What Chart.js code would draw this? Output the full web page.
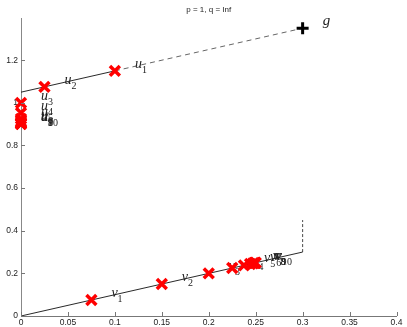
<!DOCTYPE html>
<html>
<head>
<meta charset="utf-8">
<script src="https://cdn.jsdelivr.net/npm/chart.js@4.4.1/dist/chart.umd.min.js"></script>
<style>
  html, body { margin: 0; padding: 0; background: #fff; }
</style>
</head>
<body>
<canvas id="chart" width="407" height="327"></canvas>
<script>
// values
const chartTitle = 'p = 1, q = Inf';
const uX = [0.1, 0.025, 0, 0, 0, 0, 0, 0, 0, 0];
const uY = [1.15, 1.075, 1.0, 0.953, 0.925, 0.912, 0.906, 0.903, 0.902, 0.901];
const vX = [0.075, 0.15, 0.2, 0.225, 0.2375, 0.244, 0.247, 0.2485, 0.2495, 0.25];
const vY = [0.075, 0.15, 0.2, 0.225, 0.2375, 0.244, 0.247, 0.2485, 0.2495, 0.25];
const gPoint = [0.3, 1.35];
const uLineX = [0, 0.1, 0.3];      // solid part then dashed part up to g
const uLineY = [1.05, 1.15, 1.35];
const vLineX = [0, 0.3, 0.3];      // solid part then dashed vertical
const vLineY = [0, 0.3, 0.45];
const xRange = [0, 0.4];
const yRange = [0, 1.398];

const pts = (xs, ys) => xs.map((x, i) => ({ x: x, y: ys[i] }));

function drawLabel(ctx, x, y, base, sub) {
  ctx.font = 'italic 14px "Liberation Serif"';
  ctx.fillText(base, x, y);
  if (sub) {
    const w = ctx.measureText(base).width;
    ctx.font = '10px "Liberation Serif"';
    ctx.fillText(sub, x + w, y + 5);
  }
}

const labelPlugin = {
  id: 'pointLabels',
  beforeDatasetDraw(chart, args) {
    if (args.index !== 2) return;
    const ctx = chart.ctx;
    const xs = chart.scales.x, ys = chart.scales.y;
    ctx.save();
    ctx.fillStyle = '#222';
    ctx.textBaseline = 'alphabetic';
    vX.forEach((v, i) => {
      drawLabel(ctx, xs.getPixelForValue(v) + 20, ys.getPixelForValue(vY[i]) - 3, 'v', String(i + 1));
    });
    uX.forEach((v, i) => {
      drawLabel(ctx, xs.getPixelForValue(v) + 20, ys.getPixelForValue(uY[i]) - 3, 'u', String(i + 1));
    });
    ctx.font = 'italic 15px "Liberation Serif"';
    ctx.fillText('g', xs.getPixelForValue(gPoint[0]) + 20, ys.getPixelForValue(gPoint[1]) - 3);
    ctx.restore();
  }
};

// matlab style ticks pointing into the plot, and the title
const axesPlugin = {
  id: 'matlabAxes',
  afterDraw(chart) {
    const ctx = chart.ctx;
    const area = chart.chartArea;
    ctx.save();
    ctx.strokeStyle = '#777';
    ctx.lineWidth = 1;
    ctx.beginPath();
    chart.scales.x.ticks.forEach(t => {
      const px = Math.round(chart.scales.x.getPixelForValue(t.value)) + 0.5;
      ctx.moveTo(px, area.bottom);
      ctx.lineTo(px, area.bottom - 4);
    });
    chart.scales.y.ticks.forEach(t => {
      const py = Math.round(chart.scales.y.getPixelForValue(t.value)) + 0.5;
      ctx.moveTo(area.left, py);
      ctx.lineTo(area.left + 4, py);
    });
    ctx.stroke();
    ctx.fillStyle = '#222';
    ctx.font = '8px "Liberation Sans"';
    ctx.textAlign = 'center';
    ctx.textBaseline = 'middle';
    ctx.fillText(chartTitle, (area.left + area.right) / 2, 10);
    ctx.restore();
  }
};

const tickText = v => String(Number(v.toFixed(3)));

new Chart(document.getElementById('chart'), {
  type: 'scatter',
  data: {
    datasets: [
      {
        data: [{ x: gPoint[0], y: gPoint[1] }],
        pointStyle: 'cross', pointRadius: 6, borderWidth: 3,
        borderColor: '#000', backgroundColor: '#000', clip: false
      },
      {
        data: pts(vX, vY),
        pointStyle: 'crossRot', pointRadius: 7, borderWidth: 3.5,
        borderColor: '#ff0000', backgroundColor: '#ff0000', clip: false
      },
      {
        data: pts(uX, uY),
        pointStyle: 'crossRot', pointRadius: 7, borderWidth: 3.5,
        borderColor: '#ff0000', backgroundColor: '#ff0000', clip: false
      },
      {
        data: pts(uLineX.slice(0, 2), uLineY.slice(0, 2)),
        showLine: true, pointRadius: 0, borderColor: '#111', borderWidth: 0.9
      },
      {
        data: pts(uLineX.slice(1), uLineY.slice(1)),
        showLine: true, pointRadius: 0, borderColor: '#555', borderWidth: 0.9,
        borderDash: [5, 4]
      },
      {
        data: pts(vLineX.slice(0, 2), vLineY.slice(0, 2)),
        showLine: true, pointRadius: 0, borderColor: '#111', borderWidth: 0.9
      },
      {
        data: pts(vLineX.slice(1), vLineY.slice(1)),
        showLine: true, pointRadius: 0, borderColor: '#333', borderWidth: 0.9,
        borderDash: [3, 2]
      }
    ]
  },
  options: {
    responsive: false,
    animation: false,
    devicePixelRatio: 1,
    layout: { padding: { top: 18, right: 10, left: 0, bottom: 0 } },
    plugins: {
      legend: { display: false },
      tooltip: { enabled: false },
      title: { display: false }
    },
    scales: {
      x: {
        type: 'linear',
        min: xRange[0], max: xRange[1],
        grid: { display: false, drawTicks: false },
        border: { display: true, color: '#777', width: 1 },
        ticks: {
          stepSize: 0.05, padding: 2, maxRotation: 0, autoSkip: false,
          color: '#222', font: { family: 'Liberation Sans', size: 8.5 },
          callback: tickText
        },
        afterFit(scale) { scale.height = 11; }
      },
      y: {
        type: 'linear',
        min: yRange[0], max: yRange[1],
        grid: { display: false, drawTicks: false },
        border: { display: true, color: '#888', width: 1 },
        ticks: {
          stepSize: 0.2, padding: 3, includeBounds: false, autoSkip: false,
          color: '#222', font: { family: 'Liberation Sans', size: 8.5 },
          callback: tickText
        },
        afterFit(scale) { scale.width = 21; }
      }
    }
  },
  plugins: [labelPlugin, axesPlugin]
});
</script>
</body>
</html>
